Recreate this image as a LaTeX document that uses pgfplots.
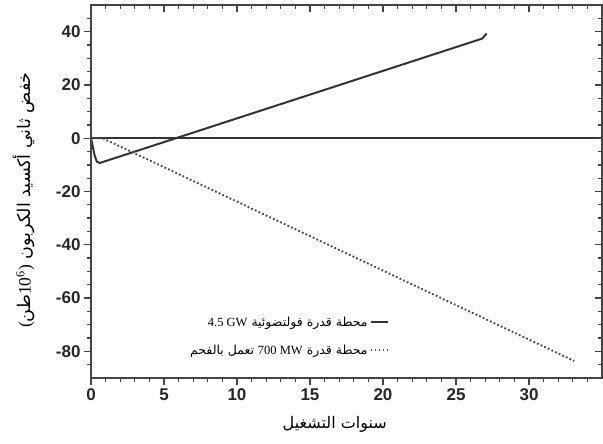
\documentclass[border=0pt]{standalone}
\usepackage{fontspec}
\usepackage{pgfplots}
\pgfplotsset{compat=1.18}
\setmainfont{Liberation Serif}
\setsansfont{Liberation Sans}
\newfontfamily\arabicfont[Script=Arabic]{DejaVu Sans}
\TeXXeTstate=1
\definecolor{axisgray}{HTML}{444444}
\definecolor{linegray}{HTML}{333333}
\definecolor{dotgray}{HTML}{4a4a4a}
\begin{document}
\begin{tikzpicture}
\begin{axis}[
  scale only axis, width=511bp, height=373bp,
  xmin=0, xmax=35, ymin=-90, ymax=50,
  xtick={0,5,...,30}, minor xtick={1,2,3,4,6,7,8,9,11,12,13,14,16,17,18,19,21,22,23,24,26,27,28,29,31,32,33,34},
  ytick={-80,-60,...,40}, minor ytick={-85,-75,-70,-65,-55,-50,-45,-35,-30,-25,-15,-10,-5,5,10,15,25,30,35,45},
  tick align=outside, xtick pos=left, ytick pos=left,
  major tick length=7bp, minor tick length=4bp,
  axis line style={line width=1.5bp, draw=axisgray},
  every tick/.style={line width=1.3bp, draw=axisgray},
  /pgf/number format/assume math mode=true,
  tick label style={font=\sffamily\bfseries\fontsize{17bp}{19bp}\selectfont, text=black!85},
  xlabel={\arabicfont\beginR سنوات التشغيل\endR},
  xlabel style={at={(axis description cs:0.477,-0.123)}, anchor=center, font=\fontsize{16bp}{18bp}\selectfont},
  ylabel={\arabicfont\beginR خفض ثاني أكسيد الكربون \beginL{\rmfamily(}طن{\rmfamily 10\textsuperscript{6})}\endL\endR},
  ylabel style={at={(axis description cs:-0.131,0.477)}, anchor=center, font=\fontsize{17.5bp}{19bp}\selectfont},
  legend plot pos=right,
  legend cell align=right,
  legend style={draw=none, fill=none, at={(axis cs:20.6,-65.5)}, anchor=north east,
    font=\fontsize{12.5bp}{14bp}\selectfont, row sep=13bp},
]
\addplot[line width=2bp, color=linegray, forget plot] coordinates {(0,0) (35,0)};
\addplot[line width=2bp, color=linegray] coordinates {
  (0,0) (0.25,-6.5) (0.4,-8.8) (0.6,-9.3) (26.8,37.4) (27.1,39.3)};
\addlegendentry{\arabicfont\beginR محطة قدرة فولتضوئية {\rmfamily\beginL 4.5 GW\endL}\endR}
\addplot[line width=1.9bp, color=dotgray, dash pattern=on 1.8bp off 2.2bp] coordinates {
  (0,0) (0.8,0) (33.1,-83.6)};
\addlegendentry{\arabicfont\beginR محطة قدرة {\rmfamily\beginL 700 MW\endL} تعمل بالفحم\endR}
\end{axis}
\begin{axis}[
  scale only axis, width=511bp, height=373bp,
  xmin=0, xmax=35, ymin=-90, ymax=50,
  xtick={0,5,...,35}, minor xtick={1,2,3,4,6,7,8,9,11,12,13,14,16,17,18,19,21,22,23,24,26,27,28,29,31,32,33,34},
  ytick={-80,-60,...,40}, minor ytick={-85,-75,-70,-65,-55,-50,-45,-35,-30,-25,-15,-10,-5,5,10,15,25,30,35,45},
  tick align=inside, xtick pos=right, ytick pos=right,
  xticklabels={}, yticklabels={},
  major tick length=7bp, minor tick length=4bp,
  axis line style={line width=1.5bp, draw=axisgray},
  every tick/.style={line width=1.3bp, draw=axisgray},
]
\end{axis}
\pgfresetboundingbox
\path ([shift={(-91bp,-66bp)}]current axis.south west) rectangle ([shift={(1bp,5bp)}]current axis.north east);
\end{tikzpicture}
\end{document}
